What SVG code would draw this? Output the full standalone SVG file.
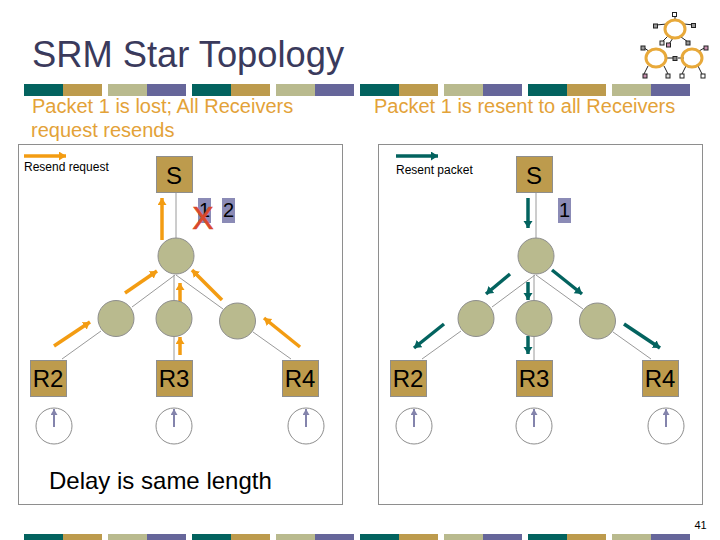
<svg xmlns="http://www.w3.org/2000/svg" width="720" height="540" viewBox="0 0 720 540">
<style>
text{font-family:"Liberation Sans",Arial,sans-serif;fill:#000}
.h{font-size:20px;fill:#E3A238}
.n{font-size:24px;text-anchor:middle}
.b{fill:#BD9B4D;stroke:#8E8E8E;stroke-width:1}
.c{fill:#B9BA8E;stroke:#8E8E8E;stroke-width:1}
.k{fill:#fff;stroke:#8E8E8E;stroke-width:1}
.p{fill:#8B8BB6}
.l{stroke:#9A9A9A;stroke-width:1;fill:none}
.o{stroke:#F39C12;stroke-width:3.5;fill:none;marker-end:url(#mo)}
.t{stroke:#03635F;stroke-width:3.5;fill:none;marker-end:url(#mt)}
.a{stroke:#8484AC;stroke-width:2;fill:none;marker-end:url(#ma)}
.f{fill:none;stroke:#8E8E8E;stroke-width:1}
.r{fill:none;stroke:#E8A93A;stroke-width:3}
.s{stroke:#222;stroke-width:1}
</style>
<defs>
<marker id="mo" markerUnits="userSpaceOnUse" markerWidth="10" markerHeight="10" refX="7" refY="4.5" orient="auto"><path d="M0 0L7 4.5L0 9Z" fill="#F39C12"/></marker>
<marker id="mt" markerUnits="userSpaceOnUse" markerWidth="10" markerHeight="10" refX="7" refY="4.5" orient="auto"><path d="M0 0L7 4.5L0 9Z" fill="#03635F"/></marker>
<marker id="ma" markerUnits="userSpaceOnUse" markerWidth="10" markerHeight="10" refX="6" refY="3.5" orient="auto"><path d="M0 0L6 3.5L0 7Z" fill="#8484AC"/></marker>
<g id="bar">
<rect x="24" width="39" height="12" fill="#03635F"/><rect x="63" width="39" height="12" fill="#BD9B4D"/><rect x="108" width="39" height="12" fill="#B9BA8E"/><rect x="147" width="39" height="12" fill="#66669A"/>
<rect x="192" width="39" height="12" fill="#03635F"/><rect x="231" width="39" height="12" fill="#BD9B4D"/><rect x="276" width="39" height="12" fill="#B9BA8E"/><rect x="315" width="39" height="12" fill="#66669A"/>
<rect x="360" width="39" height="12" fill="#03635F"/><rect x="399" width="39" height="12" fill="#BD9B4D"/><rect x="444" width="39" height="12" fill="#B9BA8E"/><rect x="483" width="39" height="12" fill="#66669A"/>
<rect x="528" width="39" height="12" fill="#03635F"/><rect x="567" width="39" height="12" fill="#BD9B4D"/><rect x="612" width="39" height="12" fill="#B9BA8E"/><rect x="651" width="39" height="12" fill="#66669A"/>
</g>
</defs>
<rect width="720" height="540" fill="#fff"/>
<use href="#bar" y="84"/>
<use href="#bar" y="534"/>
<g id="logo">
<path class="s" d="M675 20V14M667 24L656 25M684 24L694 25M668 36L661 43M681 37L688 42M673 38L669 44M648 66L644 74M664 66L668 74M666 58H674M684 58H678M686 66L682 74M698 66L702 74M699 51L706 47M650 52L643 47"/>
<ellipse class="r" cx="675" cy="29" rx="10" ry="9"/><ellipse class="r" cx="656" cy="58" rx="10" ry="9"/><ellipse class="r" cx="692" cy="58" rx="10" ry="9"/>
<g stroke="#222" stroke-width="1">
<rect x="672.500" y="12.500" width="4" height="4" fill="#fff"/>
<rect x="653.500" y="24" width="4" height="4" fill="#999"/>
<rect x="691.500" y="23.500" width="4" height="4" fill="#999"/>
<rect x="660" y="41" width="4" height="4" fill="#ddd"/>
<rect x="666.500" y="43" width="4" height="4" fill="#C890B0"/>
<rect x="686" y="41" width="4" height="4" fill="#999"/>
<rect x="641" y="46" width="4" height="4" fill="#999"/>
<rect x="673" y="56.500" width="4" height="4" fill="#888"/>
<rect x="704" y="46" width="4" height="4" fill="#C890B0"/>
<rect x="643" y="74" width="4" height="4" fill="#C890B0"/>
<rect x="666" y="74" width="4" height="4" fill="#ddd"/>
<rect x="680" y="74" width="4" height="4" fill="#fff"/>
<rect x="701" y="74" width="4" height="4" fill="#fff"/>
</g>
</g>
<text x="32" y="67" font-size="36.300" style="fill:#3A3A5C">SRM Star Topology</text>
<text class="h" x="32" y="112.500">Packet 1 is lost; All Receivers</text>
<text class="h" x="31" y="137">request resends</text>
<text class="h" x="374" y="112.500">Packet 1 is resent to all Receivers</text>
<rect class="f" x="18.500" y="144.500" width="324" height="360"/>
<rect class="f" x="378.500" y="144.500" width="324" height="360"/>
<g id="connectors">
<g class="wires">
<path class="l" d="M176 192V238M175 275L132 307M174 275V300M176 275L223 309M101 331L62 359M174 337V360M253 332L291 359"/>
<path class="l" d="M536 192V238M535 275L492 307M534 275V300M536 275L583 309M461 331L422 359M534 337V360M613 332L651 359"/>
</g>
<g class="orange">
<path class="o" d="M24 156H66"/><path class="o" d="M162 240V198"/><path class="o" d="M125 293L157 271"/><path class="o" d="M180 302V283"/><path class="o" d="M222 300L192 270"/><path class="o" d="M54 346L90 322"/><path class="o" d="M180 355V337"/><path class="o" d="M300 347L264 318"/>
</g>
<g class="teal">
<path class="t" d="M396 156H438"/><path class="t" d="M528 198V228"/><path class="t" d="M510 274L486 294"/><path class="t" d="M528 282V300"/><path class="t" d="M552 270L582 294"/><path class="t" d="M444 324L414 348"/><path class="t" d="M528 336V354"/><path class="t" d="M624 324L660 348"/>
</g>
</g>
<text x="24" y="171" font-size="12">Resend request</text>
<text x="396" y="174" font-size="12">Resent packet</text>
<g id="S-left"><rect class="b" x="156.500" y="156.500" width="36" height="36"/><text class="n" x="174" y="184">S</text></g>
<g id="S-right"><rect class="b" x="516.500" y="156.500" width="36" height="36"/><text class="n" x="534" y="184">S</text></g>
<g id="packets-left">
<rect class="p" x="198" y="198" width="13" height="25"/><text x="204.500" y="217" font-size="20" text-anchor="middle">1</text>
<rect class="p" x="222" y="198" width="13" height="25"/><text x="228.500" y="217" font-size="20" text-anchor="middle">2</text>
<text x="203" y="229" font-size="32" text-anchor="middle" style="fill:#D9492B;stroke:#D9492B;stroke-width:.6">X</text>
</g>
<g id="packet-right"><rect class="p" x="558" y="198" width="13" height="25"/><text x="564.500" y="217" font-size="20" text-anchor="middle">1</text></g>
<g id="routers-left"><circle class="c" cx="176" cy="256" r="18"/><circle class="c" cx="116" cy="318.500" r="18"/><circle class="c" cx="174" cy="318.500" r="18"/><circle class="c" cx="237.500" cy="321" r="18"/></g>
<g id="routers-right"><circle class="c" cx="536" cy="256" r="18"/><circle class="c" cx="476" cy="318.500" r="18"/><circle class="c" cx="534" cy="318.500" r="18"/><circle class="c" cx="597.500" cy="321" r="18"/></g>
<g id="R2-left"><rect class="b" x="30.500" y="360.500" width="36" height="36"/><text class="n" x="48" y="387">R2</text></g>
<g id="R3-left"><rect class="b" x="156.500" y="360.500" width="36" height="36"/><text class="n" x="174" y="387">R3</text></g>
<g id="R4-left"><rect class="b" x="282.500" y="360.500" width="36" height="36"/><text class="n" x="300" y="387">R4</text></g>
<g id="R2-right"><rect class="b" x="390.500" y="360.500" width="36" height="36"/><text class="n" x="408" y="387">R2</text></g>
<g id="R3-right"><rect class="b" x="516.500" y="360.500" width="36" height="36"/><text class="n" x="534" y="387">R3</text></g>
<g id="R4-right"><rect class="b" x="642.500" y="360.500" width="36" height="36"/><text class="n" x="660" y="387">R4</text></g>
<g id="clocks">
<circle class="k" cx="54" cy="426" r="18"/><circle class="k" cx="174" cy="426" r="18"/><circle class="k" cx="306" cy="426" r="18"/><circle class="k" cx="414" cy="426" r="18"/><circle class="k" cx="534" cy="426" r="18"/><circle class="k" cx="666" cy="426" r="18"/>
<path class="a" d="M54 427V409"/><path class="a" d="M174 427V409"/><path class="a" d="M306 427V409"/><path class="a" d="M414 427V409"/><path class="a" d="M534 427V409"/><path class="a" d="M666 427V409"/>
</g>
<text x="49" y="489" font-size="24">Delay is same length</text>
<text x="694.500" y="529" font-size="11">41</text>
</svg>
